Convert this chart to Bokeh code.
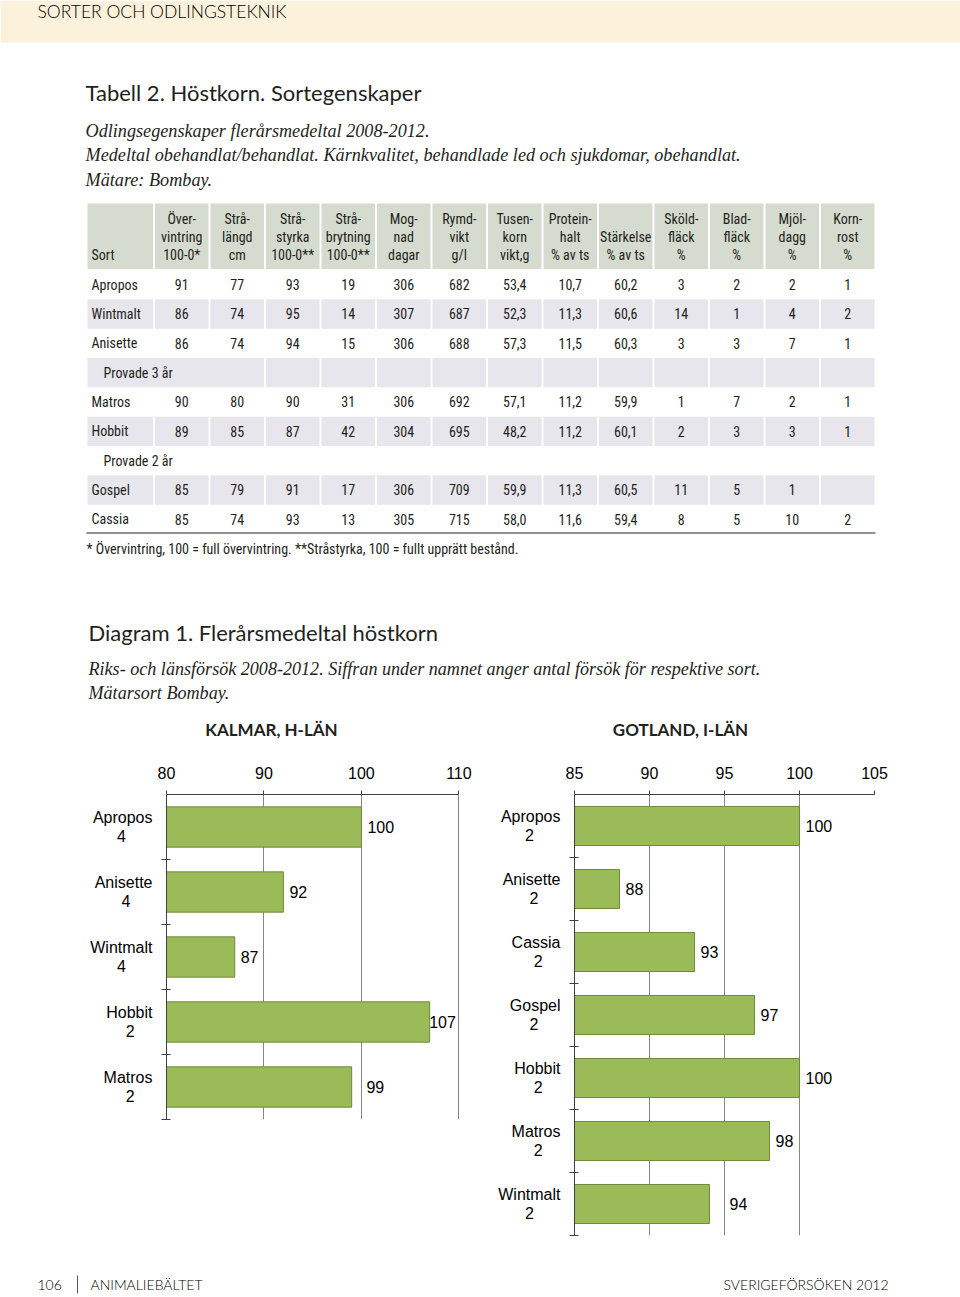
from bokeh.plotting import figure
from bokeh.models import Range1d, FixedTicker, ColumnDataSource
from bokeh.layouts import column, row
from bokeh.embed import file_html
from bokeh.resources import INLINE
from bokeh.core.properties import value

# ---------------- data ----------------
page_header = "SORTER OCH ODLINGSTEKNIK"
table_title = "Tabell 2. Höstkorn. Sortegenskaper"
table_sub = ["Odlingsegenskaper flerårsmedeltal 2008-2012.",
             "Medeltal obehandlat/behandlat. Kärnkvalitet, behandlade led och sjukdomar, obehandlat.",
             "Mätare: Bombay."]
col_head_1 = ["", "Över-", "Strå-", "Strå-", "Strå-", "Mog-", "Rymd-", "Tusen-", "Protein-", "", "Sköld-", "Blad-", "Mjöl-", "Korn-"]
col_head_2 = ["", "vintring", "längd", "styrka", "brytning", "nad", "vikt", "korn", "halt", "Stärkelse", "fläck", "fläck", "dagg", "rost"]
col_head_3 = ["Sort", "100-0*", "cm", "100-0**", "100-0**", "dagar", "g/l", "vikt,g", "% av ts", "% av ts", "%", "%", "%", "%"]

row_apropos = ["Apropos", "91", "77", "93", "19", "306", "682", "53,4", "10,7", "60,2", "3", "2", "2", "1"]
row_wintmalt = ["Wintmalt", "86", "74", "95", "14", "307", "687", "52,3", "11,3", "60,6", "14", "1", "4", "2"]
row_anisette = ["Anisette", "86", "74", "94", "15", "306", "688", "57,3", "11,5", "60,3", "3", "3", "7", "1"]
row_group3 = ["Provade 3 år"]
row_matros = ["Matros", "90", "80", "90", "31", "306", "692", "57,1", "11,2", "59,9", "1", "7", "2", "1"]
row_hobbit = ["Hobbit", "89", "85", "87", "42", "304", "695", "48,2", "11,2", "60,1", "2", "3", "3", "1"]
row_group2 = ["Provade 2 år"]
row_gospel = ["Gospel", "85", "79", "91", "17", "306", "709", "59,9", "11,3", "60,5", "11", "5", "1", ""]
row_cassia = ["Cassia", "85", "74", "93", "13", "305", "715", "58,0", "11,6", "59,4", "8", "5", "10", "2"]
table_rows = [row_apropos, row_wintmalt, row_anisette, row_group3, row_matros,
              row_hobbit, row_group2, row_gospel, row_cassia]
footnote = "*  Övervintring, 100 = full övervintring. **Stråstyrka, 100 = fullt upprätt bestånd."

diagram_title = "Diagram 1. Flerårsmedeltal höstkorn"
diagram_sub = ["Riks- och länsförsök 2008-2012. Siffran under namnet anger antal försök för respektive sort.",
               "Mätarsort  Bombay."]

kalmar_title = "KALMAR, H-LÄN"
kalmar_sorts = ["Apropos", "Anisette", "Wintmalt", "Hobbit", "Matros"]
kalmar_trials = [4, 4, 4, 2, 2]
kalmar_values = [100, 92, 87, 107, 99]
kalmar_ticks = [80, 90, 100, 110]

gotland_title = "GOTLAND, I-LÄN"
gotland_sorts = ["Apropos", "Anisette", "Cassia", "Gospel", "Hobbit", "Matros", "Wintmalt"]
gotland_trials = [2, 2, 2, 2, 2, 2, 2]
gotland_values = [100, 88, 93, 97, 100, 98, 94]
gotland_ticks = [85, 90, 95, 100, 105]

footer_page = "106"
footer_left = "ANIMALIEBÄLTET"
footer_right = "SVERIGEFÖRSÖKEN 2012"

# ---------------- styles ----------------
SANS_H = "Lato"
SANS_L = "'Lato Light', Lato"
SERIF = "Liberation Serif"
NARROW = "'Roboto Condensed', 'Noto Sans Condensed', 'DejaVu Sans Condensed', 'Liberation Sans'"
ARIAL = "Liberation Sans"
INK = "#231f20"
BAR = "#9bbb59"
BAR_LINE = "#6f8a3a"
HEAD_BG = "#d5dccf"
ROW_BG = "#e6e6ec"
BAND = "#fcf1da"
TABLE_SIZE = "14px"
CHART_FONT_PX = 16

# Arial advance widths (1/1000 em) used to centre the trial count under the name
ARIAL_W = {"A": 667, "C": 722, "G": 778, "H": 722, "M": 833, "W": 944, "a": 556, "b": 556,
           "c": 500, "e": 556, "i": 222, "l": 222, "m": 833, "n": 556, "o": 556, "p": 556,
           "r": 333, "s": 500, "t": 278}


def arial_width(s):
    return sum(ARIAL_W.get(ch, 556) for ch in s)


def stacked_label(name, count):
    pad = round((arial_width(name) - arial_width(str(count))) / 2 / 278)
    return f"{name}\n{count}" + "\u00a0" * max(pad, 0)


def label_x(values, ticks, scale, x_max):
    """Place value labels just after the bar end, stepping around grid lines."""
    xs = []
    for v in values:
        w = arial_width(str(v)) * CHART_FONT_PX / 1000 / scale
        start = v + 6 / scale
        for g in ticks:
            if start - 2 / scale <= g <= start + w + 2 / scale:
                alt = g + 5 / scale
                start = alt if alt + w <= x_max else g - 3 / scale - w
                break
        xs.append(start)
    return xs


def txt(p, xs, ys, texts, font, size, align="left", style="normal", color=INK, baseline="middle"):
    src = ColumnDataSource(dict(x=xs, y=ys, text=texts))
    p.text(x="x", y="y", text="text", source=src, text_font=value(font),
           text_font_size=value(size), text_align=align, text_baseline=baseline,
           text_font_style=style, text_color=color)


def page_fig(w, h, x0, x1, y_top, y_bot):
    p = figure(width=w, height=h, x_range=Range1d(x0, x1), y_range=Range1d(y_bot, y_top),
               output_backend="svg", toolbar_location=None, min_border=0)
    p.axis.visible = False
    p.grid.visible = False
    p.outline_line_color = None
    return p


# ---------------- top page part ----------------
top = page_fig(960, 745, 0, 960, 0, 745)
top.quad(left=[0], right=[960], top=[0], bottom=[42], fill_color=BAND, line_color=None)
txt(top, [37], [11], [page_header], SANS_L, "17.5px", color="#000000")
txt(top, [85], [92], [table_title], SANS_H, "22px")
txt(top, [85, 85, 85], [130, 154, 179], table_sub, SERIF, "18.2px", style="italic")

# table geometry
n_cols = 14
bounds = [86.0, 153.5] + [153.5 + 55.5 * k for k in range(1, 13)] + [875.0]
centers = [(bounds[i] + bounds[i + 1]) / 2 for i in range(n_cols)]
head_top, head_bot = 203.0, 268.5
row_h = 29.33
row_top0 = 269.5

top.quad(left=[b + 1 for b in bounds[:-1]], right=[b - 1 for b in bounds[1:]],
         top=[head_top] * n_cols, bottom=[head_bot] * n_cols, fill_color=HEAD_BG, line_color=None)
hx, hy, ht, ha = [], [], [], []
for i in range(n_cols):
    for line, y in zip((col_head_1, col_head_2, col_head_3), (218, 236, 254)):
        if line[i]:
            hx.append(91 if i == 0 else centers[i])
            hy.append(y)
            ht.append(line[i])
            ha.append("left" if i == 0 else "center")
src = ColumnDataSource(dict(x=hx, y=hy, text=ht, align=ha))
top.text(x="x", y="y", text="text", source=src, text_align="align", text_baseline="middle",
         text_font=value(NARROW), text_font_size=value(TABLE_SIZE), text_color=INK)

ql, qr, qt, qb = [], [], [], []
cx, cy, ct, ca = [], [], [], []
for r, cells in enumerate(table_rows):
    t = row_top0 + r * row_h
    yc = t + row_h / 2
    shaded = (r % 2 == 1)
    if len(cells) == 1:
        spans = [(0, 3)] + [(k, k + 1) for k in range(3, n_cols)]
        cx.append(103); cy.append(yc); ct.append(cells[0]); ca.append("left")
    else:
        spans = [(k, k + 1) for k in range(n_cols)]
        for k, c in enumerate(cells):
            if c:
                cx.append(91 if k == 0 else centers[k]); cy.append(yc); ct.append(c)
                ca.append("left" if k == 0 else "center")
    if shaded:
        for a, b in spans:
            ql.append(bounds[a] + 1); qr.append(bounds[b] - 1); qt.append(t); qb.append(t + row_h)
top.quad(left=ql, right=qr, top=qt, bottom=qb, fill_color=ROW_BG, line_color=None)
src = ColumnDataSource(dict(x=cx, y=cy, text=ct, align=ca))
top.text(x="x", y="y", text="text", source=src, text_align="align", text_baseline="middle",
         text_font=value(NARROW), text_font_size=value(TABLE_SIZE), text_color=INK)
table_end = row_top0 + len(table_rows) * row_h
top.segment(x0=[86], x1=[875], y0=[table_end - 1], y1=[table_end - 1], line_color="#6d6d6d", line_width=1.5)
txt(top, [86], [548], [footnote], NARROW, TABLE_SIZE)

txt(top, [88], [632], [diagram_title], SANS_H, "22px")
txt(top, [88, 88], [668, 692], diagram_sub, SERIF, "18.1px", style="italic")
txt(top, [271, 680], [729, 729], [kalmar_title, gotland_title], SANS_H, "17px", align="center", style="bold")


# ---------------- bar charts ----------------
def bar_chart(w, h, sorts, trials, values, ticks, xr, border_l, border_r):
    n = len(sorts)
    p = figure(width=w, height=h, x_range=Range1d(*xr), y_range=Range1d(n - 0.5, -0.5),
               x_axis_location="above", output_backend="svg", toolbar_location=None,
               min_border_left=border_l, min_border_right=border_r, min_border_top=49,
               min_border_bottom=10)
    p.outline_line_color = None
    p.ygrid.visible = False
    p.xgrid.ticker = FixedTicker(ticks=ticks)
    p.xgrid.grid_line_color = "#858585"
    p.xgrid.grid_line_width = 1
    pos = list(range(n))
    p.hbar(y=pos, left=ticks[0], right=values, height=0.62, fill_color=BAR,
           line_color=BAR_LINE, line_width=1)
    scale = (w - border_l - border_r) / (xr[1] - xr[0])
    src = ColumnDataSource(dict(x=label_x(values, ticks, scale, xr[1]), y=pos,
                                text=[str(v) for v in values]))
    p.text(x="x", y="y", text="text", source=src, text_align="left",
           text_baseline="middle", text_font=value(ARIAL), text_font_size=value(f"{CHART_FONT_PX}px"),
           text_color="#000000")
    xa = p.xaxis[0]
    xa.ticker = FixedTicker(ticks=ticks)
    xa.bounds = (ticks[0], ticks[-1])
    xa.axis_line_color = "#404040"
    xa.major_tick_line_color = "#404040"
    xa.major_tick_out = 4
    xa.major_tick_in = 0
    xa.major_label_text_font = ARIAL
    xa.major_label_text_font_size = f"{CHART_FONT_PX}px"
    xa.major_label_text_color = "#000000"
    xa.major_label_standoff = 12
    ya = p.yaxis[0]
    ya.ticker = FixedTicker(ticks=pos, minor_ticks=[i + 0.5 for i in pos])
    ya.major_label_overrides = {i: stacked_label(s, c) for i, (s, c) in enumerate(zip(sorts, trials))}
    ya.bounds = (-0.5, n - 0.5)
    ya.axis_line_color = "#404040"
    ya.major_tick_out = 0
    ya.major_tick_in = 0
    ya.minor_tick_out = 5
    ya.minor_tick_in = 4
    ya.minor_tick_line_color = "#404040"
    ya.major_label_text_font = ARIAL
    ya.major_label_text_font_size = f"{CHART_FONT_PX}px"
    ya.major_label_text_color = "#000000"
    ya.major_label_text_line_height = 1.1
    ya.major_label_standoff = 9
    return p


# left chart: frame x 166..473 (80..111.5), y 794..1119 ; right chart: frame x 574..874, y 794..1235
left = bar_chart(480, 384, kalmar_sorts, kalmar_trials, kalmar_values, kalmar_ticks, (80, 111.5), 166, 7)
right = bar_chart(480, 500, gotland_sorts, gotland_trials, gotland_values, gotland_ticks, (85, 105), 94, 86)

# ---------------- footer ----------------
foot = page_fig(960, 52, 0, 960, 1245, 1297)
txt(foot, [37], [1284], [footer_page], SANS_L, "14px", color="#000000")
foot.segment(x0=[77], x1=[77], y0=[1275], y1=[1293], line_color="#555555", line_width=1)
txt(foot, [90], [1284], [footer_left], SANS_L, "14px", color="#000000")
txt(foot, [888], [1284], [footer_right], SANS_L, "14px", align="right", color="#000000")

layout = column(top, row(left, right), foot)
open("out.html", "w").write(file_html(layout, INLINE))
